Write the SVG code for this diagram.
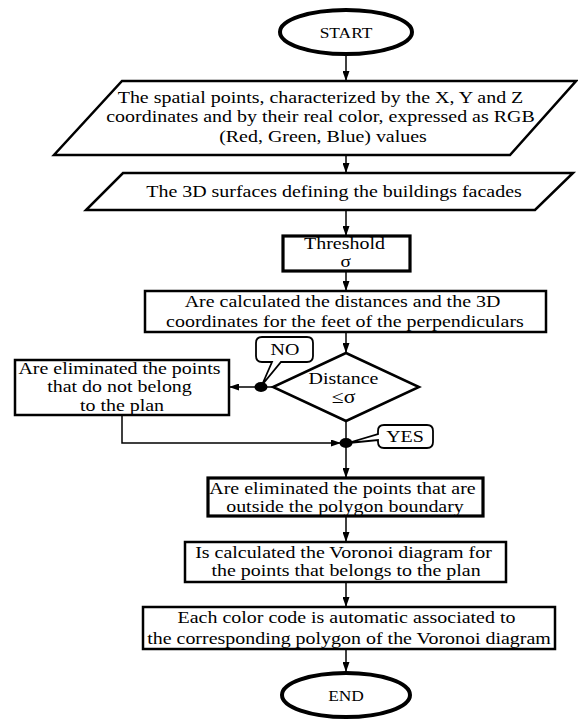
<svg xmlns="http://www.w3.org/2000/svg" width="578" height="721" viewBox="0 0 578 721">
<style>
.shape{fill:#fff;stroke:#000;stroke-width:2.5}
.term{fill:#fff;stroke:#000;stroke-width:4}
.thick{fill:#fff;stroke:#000;stroke-width:3.2}
.call{fill:#fff;stroke:#000;stroke-width:1.8}
.c{fill:none;stroke:#000;stroke-width:1.5}
text{font-family:'Liberation Serif','Times New Roman','DejaVu Serif',serif;fill:#000;text-anchor:middle}
.t{font-size:16.5px}
.s{font-size:14.5px}
.sig{font-size:18px}
.sig2{font-size:16px}
</style>
<defs>
<marker id="ah" markerUnits="userSpaceOnUse" markerWidth="10" markerHeight="7" refX="10" refY="3.5" orient="auto">
<path d="M0,0 L10,3.5 L0,7 Z" fill="#000"/>
</marker>
</defs>
<rect width="578" height="721" fill="#fff"/>

<g id="connectors">
<line class="c" x1="346" y1="55" x2="346" y2="81" marker-end="url(#ah)"/>
<line class="c" x1="346" y1="155" x2="346" y2="173" marker-end="url(#ah)"/>
<line class="c" x1="346" y1="210" x2="346" y2="236" marker-end="url(#ah)"/>
<line class="c" x1="346" y1="271" x2="346" y2="291" marker-end="url(#ah)"/>
<line class="c" x1="346" y1="332" x2="346" y2="353" marker-end="url(#ah)"/>
<polyline class="c" points="273,387 261,387 229,387" marker-end="url(#ah)"/>
<line class="c" x1="346" y1="421" x2="346" y2="443"/>
<polyline class="c" points="122,415 122,443 341,443" marker-end="url(#ah)"/>
<line class="c" x1="346" y1="443" x2="346" y2="478" marker-end="url(#ah)"/>
<line class="c" x1="346" y1="516" x2="346" y2="542" marker-end="url(#ah)"/>
<line class="c" x1="346" y1="582" x2="346" y2="607" marker-end="url(#ah)"/>
<line class="c" x1="346" y1="649" x2="346" y2="672" marker-end="url(#ah)"/>
<ellipse cx="261" cy="387" rx="6.5" ry="5" fill="#000"/>
<ellipse cx="346" cy="443" rx="6.5" ry="5" fill="#000"/>
</g>

<g id="start">
<ellipse class="term" cx="346" cy="32" rx="66" ry="22"/>
<text class="s" font-family="Liberation Serif, serif" transform="translate(346,0) scale(1.2 1)" y="38">START</text>
</g>

<g id="input-points">
<polygon class="shape" points="122,81 576,81 510,155 54,155"/>
<text class="t" font-family="Liberation Serif, serif" transform="translate(323,0) scale(1.21 1)">
<tspan x="0" y="103">The spatial points, characterized by the X, Y and Z</tspan>
<tspan x="0" y="122">coordinates and by their real color, expressed as RGB</tspan>
<tspan x="0" y="142">(Red, Green, Blue) values</tspan>
</text>
</g>

<g id="input-surfaces">
<polygon class="shape" points="123,173 573,173 535,210 86,210"/>
<text class="t" font-family="Liberation Serif, serif" transform="translate(334,0) scale(1.21 1)" y="197">The 3D surfaces defining the buildings facades</text>
</g>

<g id="threshold">
<rect class="thick" x="283" y="236" width="127" height="35"/>
<text class="t" font-family="Liberation Serif, serif" transform="translate(347,0) scale(1.21 1)">
<tspan x="0" y="249">Threshold</tspan>
<tspan x="-1" y="267" class="sig2">σ</tspan>
</text>
</g>

<g id="calc-distances">
<rect class="shape" x="145" y="291" width="401" height="41"/>
<text class="t" font-family="Liberation Serif, serif" transform="translate(345,0) scale(1.21 1)">
<tspan x="0" y="307">Are calculated the distances and the 3D</tspan>
<tspan x="0" y="327">coordinates for the feet of the perpendiculars</tspan>
</text>
</g>

<g id="decision">
<polygon class="shape" points="346,353 419,387 346,421 273,387"/>
<text class="t" font-family="Liberation Serif, serif" transform="translate(346,0) scale(1.21 1)">
<tspan x="0" y="384">Distance</tspan>
<tspan x="-2" y="403" class="sig">≤σ</tspan>
</text>
</g>

<g id="no-label">
<path class="call" d="M262,337 H307 Q313,337 313,343 V356 Q313,362 307,362 H281 L262,385 L272,362 H262 Q256,362 256,356 V343 Q256,337 262,337 Z"/>
<text class="t" font-family="Liberation Serif, serif" transform="translate(285,0) scale(1.21 1)" y="355">NO</text>
</g>

<g id="eliminate-outside-plan">
<rect class="shape" x="15" y="360" width="214" height="55"/>
<text class="t" font-family="Liberation Serif, serif" transform="translate(122,0) scale(1.21 1)">
<tspan x="0" y="374">Are eliminated the points</tspan>
<tspan x="0" y="392">that do not belong</tspan>
<tspan x="0" y="411">to the plan</tspan>
</text>
</g>

<g id="yes-label">
<path class="call" d="M384,425 H427 Q433,425 433,431 V442 Q433,448 427,448 H384 Q378,448 378,442 V440 L348,443 L378,434 V431 Q378,425 384,425 Z"/>
<text class="t" font-family="Liberation Serif, serif" transform="translate(405,0) scale(1.21 1)" y="442">YES</text>
</g>

<g id="eliminate-polygon">
<rect class="thick" x="208" y="478" width="275" height="38"/>
<text class="t" font-family="Liberation Serif, serif" transform="translate(345,0) scale(1.21 1)">
<tspan x="0" y="494">Are eliminated the points that are</tspan>
<tspan x="0" y="512">outside the polygon boundary</tspan>
</text>
</g>

<g id="voronoi">
<rect class="shape" x="185" y="542" width="321" height="40"/>
<text class="t" font-family="Liberation Serif, serif" transform="translate(346,0) scale(1.21 1)">
<tspan x="0" y="558">Is calculated the Voronoi diagram for</tspan>
<tspan x="0" y="576">the points that belongs to the plan</tspan>
</text>
</g>

<g id="color-assoc">
<rect class="shape" x="143" y="607" width="412" height="42"/>
<text class="t" font-family="Liberation Serif, serif" transform="translate(349,0) scale(1.21 1)">
<tspan x="0" y="623">Each color code is automatic associated to</tspan>
<tspan x="0" y="644">the corresponding polygon of the Voronoi diagram</tspan>
</text>
</g>

<g id="end">
<ellipse class="term" cx="346" cy="695" rx="64" ry="22"/>
<text class="s" font-family="Liberation Serif, serif" transform="translate(346,0) scale(1.2 1)" y="701">END</text>
</g>
</svg>
